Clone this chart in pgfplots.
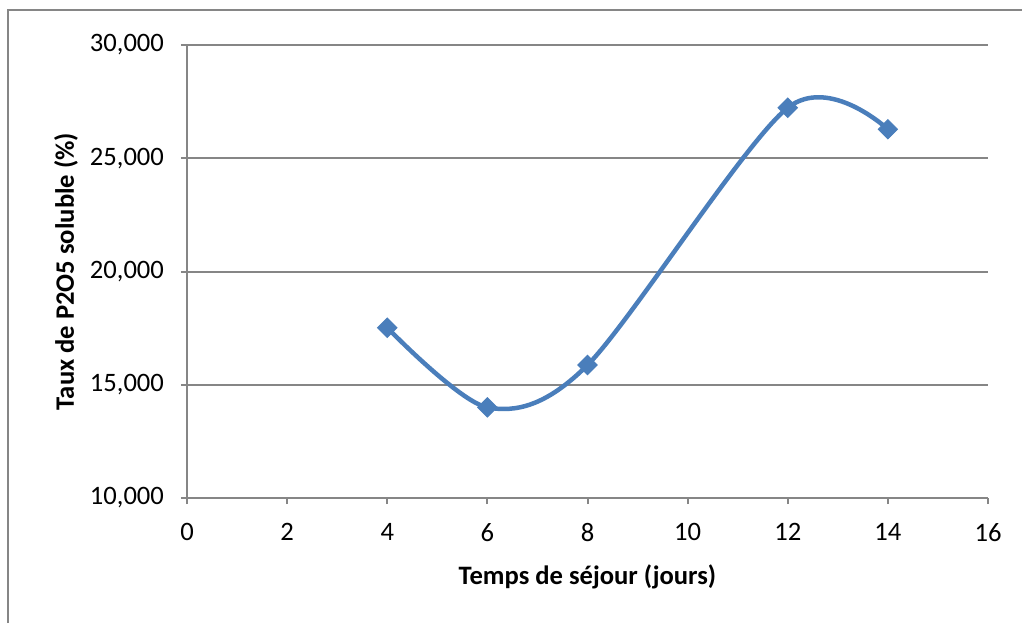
\documentclass[border=0pt]{standalone}
\usepackage{fontspec}
\setmainfont{Carlito}
\usepackage{pgfplots}
\pgfplotsset{compat=1.18}
\definecolor{ser}{RGB}{74,126,187}
\definecolor{gr}{RGB}{134,134,134}
\begin{document}
\begin{tikzpicture}[font=\fontsize{13.3pt}{16pt}\selectfont]
\path[use as bounding box] (-93.5pt,-62.5pt) rectangle (417.5pt,249pt);
\draw[gr, line width=1pt] (-89.25pt,-62.5pt) -- (-89.25pt,244pt) -- (417.5pt,244pt);
\begin{axis}[
  at={(0pt,0pt)}, anchor=south west,
  scale only axis, width=400.5pt, height=226.5pt,
  xmin=0, xmax=16, ymin=10, ymax=30,
  xtick={0,2,...,16}, ytick={10,15,...,30},
  axis x line*=bottom, axis y line*=left,
  axis line style={draw=gr, line width=1pt, -},
  ymajorgrids, grid style={draw=gr, line width=1pt},
  tick align=outside, major tick length=3pt,
  tick style={draw=gr, line width=1pt},
  /pgf/number format/assume math mode=true,
  yticklabel style={xshift=-5pt, /pgf/number format/.cd, fixed, fixed zerofill, precision=3, use comma},
  xticklabel style={yshift=-6pt},
  xlabel={Temps de séjour (jours)},
  ylabel={Taux de P2O5 soluble (\%)},
  every axis x label/.style={at={(axis description cs:0.5,0)}, yshift=-39.5pt, anchor=center, font=\bfseries\fontsize{13.3pt}{16pt}\selectfont},
  every axis y label/.style={at={(axis description cs:0,0.5)}, xshift=-60.5pt, rotate=90, anchor=center, font=\bfseries\fontsize{13.3pt}{16pt}\selectfont},
]
\addplot[ser, line width=2.25pt, smooth, tension=0.5, mark=square*, mark size=3.4pt,
  mark options={rotate=45, fill=ser, draw=ser, line width=0.5pt}]
  coordinates {(4,17.52) (6,14.00) (8,15.87) (12,27.23) (14,26.28)};
\end{axis}
\end{tikzpicture}
\end{document}
